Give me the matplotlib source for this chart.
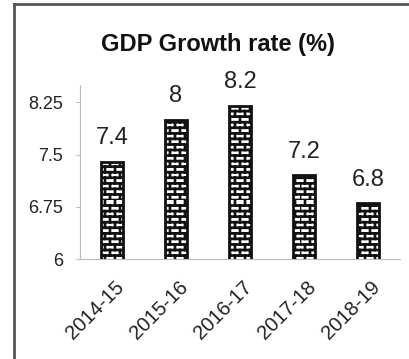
import warnings
import numpy as np
import matplotlib
matplotlib.use("Agg")
import matplotlib.pyplot as plt
import matplotlib.transforms as mtrans
from matplotlib import hatch as mhatch
from matplotlib.path import Path
from matplotlib.lines import Line2D

warnings.filterwarnings("ignore")

# data
years = ["2014-15", "2015-16", "2016-17", "2017-18", "2018-19"]
growth = [7.4, 8.0, 8.2, 7.2, 6.8]
labels = ["7.4", "8", "8.2", "7.2", "6.8"]
yticks = [6, 6.75, 7.5, 8.25]
ytick_labels = ["6", "6.75", "7.5", "8.25"]


# brick hatch ('b'), not available in matplotlib by default
class BrickHatch(mhatch.HatchPatternBase):
    ROWS = 18
    COLS = 10

    def __init__(self, hatch, density):
        self.on = 'b' in hatch
        if self.on:
            self.num_vertices = 2 * self.ROWS + 2 * self.ROWS * self.COLS
        else:
            self.num_vertices = 0

    def set_vertices_and_codes(self, vertices, codes):
        R, C = self.ROWS, self.COLS
        k = 0
        for i in range(R):
            y = i / R
            vertices[k] = (0.0, y); codes[k] = Path.MOVETO
            vertices[k + 1] = (1.0, y); codes[k + 1] = Path.LINETO
            k += 2
        for i in range(R):
            off = 0.5 / C if i % 2 else 0.0
            for j in range(C):
                x = j / C + off
                vertices[k] = (x, i / R); codes[k] = Path.MOVETO
                vertices[k + 1] = (x, (i + 1) / R); codes[k + 1] = Path.LINETO
                k += 2


mhatch._hatch_types.append(BrickHatch)
plt.rcParams['hatch.linewidth'] = 1.9
plt.rcParams['font.family'] = ['Liberation Sans', 'DejaVu Sans']

fig = plt.figure(figsize=(4.10, 3.59), dpi=100)
ax = fig.add_axes([80 / 410, 100 / 359, 320 / 410, 174 / 359])

x = np.arange(len(years))
bars = ax.bar(x, growth, width=0.35, bottom=0, color='white',
              edgecolor='#111111', linewidth=2, hatch='b')

for xi, v, lab in zip(x, growth, labels):
    ax.annotate(lab, (xi, v), xytext=(0, 9), textcoords='offset points',
                ha='center', va='bottom', fontsize=17, color='#222222',
                annotation_clip=False)

ax.set_xlim(-0.5, len(years) - 0.5)
ax.set_ylim(6, 8.5)
ax.set_yticks(yticks)
ax.set_yticklabels(ytick_labels, fontsize=13, color='#222222')
ax.set_xticks(x)
ax.set_xticklabels(years, rotation=45, ha='right', rotation_mode='anchor',
                   fontsize=14.5, color='#222222')
ax.tick_params(axis='x', length=0, pad=13)
ax.tick_params(axis='y', length=3, color='#bbbbbb', pad=9)
shift = mtrans.ScaledTranslation(2 / 100, 0, fig.dpi_scale_trans)
for t in ax.get_xticklabels():
    t.set_transform(t.get_transform() + shift)

for s in ['top', 'right']:
    ax.spines[s].set_visible(False)
ax.spines['left'].set_color('#bbbbbb')
ax.spines['bottom'].set_color('#bbbbbb')

fig.text(218 / 410, 1 - 44 / 359, "GDP Growth rate (%)", ha='center',
         va='center', fontsize=17, fontweight='bold', color='#111111')

# outer frame (left and top edges only, as in the reference)
fig.add_artist(Line2D([14 / 410, 14 / 410], [0, 1 - 4 / 359],
                      transform=fig.transFigure, color='#555555', lw=2))
fig.add_artist(Line2D([14 / 410, 1], [1 - 4 / 359, 1 - 4 / 359],
                      transform=fig.transFigure, color='#555555', lw=2))

fig.savefig("out.png", dpi=100)
